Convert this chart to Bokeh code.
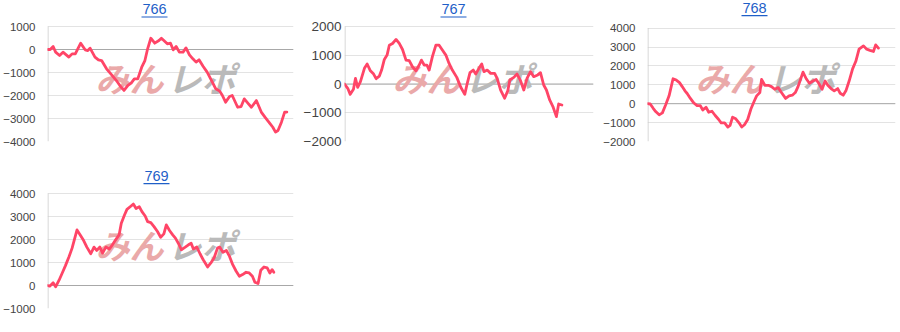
from bokeh.plotting import figure
from bokeh.layouts import gridplot
from bokeh.models import Range1d, FixedTicker, Span, Label, BoxAnnotation
from bokeh.embed import file_html
from bokeh.resources import INLINE

# ---- data (x = position within session, 0-100; y = balance) ----
titles = ["766", "767", "768", "769"]

x766 = [0, 1.1, 2.3, 3.3, 4.9, 6.3, 8.7, 10, 11.3, 13.5, 15.3, 16.4, 17.3, 19.3, 20.7, 22, 24, 26, 28, 29.7,
        31.1, 32.7, 34, 35.3, 36.7, 38.3, 39.6, 40.7, 42, 43.6, 45.3, 46.3, 47.3, 48.7, 50, 51.1, 52.3, 53.6,
        55.1, 56.3, 57.7, 59.1, 60.4, 61.6, 63.3, 64.9, 66.7, 68.4, 70, 71.1, 72.4, 74, 75.1, 77.3, 78.7, 80,
        81.7, 82.9, 84.9, 86.9, 88.4, 90.3, 91.6, 92.7, 93.7, 95.1, 96.4, 97.3]
y766 = [0, 0, 130, -115, -260, -115, -330, -190, -190, 275, -15, -45, 60, -330, -450, -480, -840, -1090, -1350,
        -1610, -1780, -1560, -1460, -1275, -1275, -770, -480, 30, 490, 275, 390, 490, 390, 245, 275, -15, 130,
        -115, -115, 70, -230, -405, -550, -450, -740, -985, -1350, -1710, -1810, -2000, -2290, -2045, -2000,
        -2510, -2480, -2145, -2360, -2510, -2220, -2720, -2940, -3200, -3380, -3590, -3520, -3160, -2720, -2720]

x767 = [0, 1.3, 2.3, 3.6, 4.4, 5.3, 6.4, 8, 9.1, 10.4, 11.7, 12.7, 14, 14.9, 16, 17.1, 18, 19.3, 20.7, 22,
        23.3, 24.7, 26, 27.3, 28.7, 30, 30.9, 32, 33.1, 34, 35.3, 36.7, 38, 39.3, 40.7, 42, 43.3, 45.1, 46.7,
        48.3, 49.3, 50.4, 51.7, 52.7, 54, 55.1, 56, 57.3, 58.7, 60.3, 61.3, 62.7, 64.3, 65.6, 66.4, 68, 69.3,
        70.7, 72, 73.3, 74.7, 76, 77.6, 78.7, 80, 81.1, 82.4, 83.7, 85.1, 86, 87.3]
y767 = [0, -150, -360, -185, 195, -115, 80, 545, 695, 460, 345, 185, 275, 485, 855, 1005, 1350, 1410, 1550, 1410,
        1200, 830, 810, 600, 460, 660, 830, 660, 660, 485, 950, 1350, 1350, 1180, 1005, 715, 485, 230, -115,
        -360, 25, 395, 485, 345, 545, 695, 430, 485, 370, 370, 195, -210, -495, -230, 140, 230, 345, 115, -210,
        195, 430, 255, 315, 395, -35, -210, -555, -785, -1135, -695, -730]

x768 = [0, 1.1, 2.3, 3.3, 4.7, 6, 7.3, 8.7, 10.3, 11.6, 12.9, 14, 15.1, 16, 17.3, 18.7, 20, 21.3, 22.3, 23.6,
        24.7, 26, 27.3, 28.7, 29.7, 31.1, 32.4, 33.3, 34.3, 35.6, 36.9, 38, 39.1, 40.4, 41.7, 43.1, 44, 45.3,
        46, 47.3, 48.7, 50, 51.3, 52.7, 54, 55.7, 57.1, 58.4, 59.6, 60.7, 61.7, 62.7, 64, 65.3, 66.7, 68, 69.3,
        70.4, 71.6, 72.7, 74, 75.3, 76.7, 77.7, 78.9, 80, 81.3, 82.7, 84, 85.3, 87.1, 88.4, 89.7, 91.1, 92, 93.1]
y768 = [0, -15, -245, -415, -590, -485, -70, 415, 1320, 1250, 1115, 905, 680, 540, 280, 35, -105, -105, -330, -190,
        -450, -400, -625, -835, -1010, -1010, -1235, -1150, -715, -800, -1010, -1235, -1115, -835, -280, 155,
        415, 590, 1285, 975, 975, 905, 765, 850, 590, 280, 415, 450, 590, 905, 1285, 1670, 1320, 1080, 1200,
        1285, 1025, 765, 1200, 975, 800, 680, 800, 555, 450, 680, 1200, 1845, 2245, 2885, 3060, 2885, 2820,
        2765, 3115, 2940]

x769 = [0, 0.9, 2.3, 3.3, 4.7, 6, 7.3, 8.7, 10, 10.9, 12, 13.3, 14.7, 16, 17.6, 18.9, 20, 21.3, 22.4, 23.7,
        25.1, 26.4, 27.7, 29.1, 30, 31.3, 32.3, 33.6, 34.9, 36, 37.3, 38.4, 39.7, 40.7, 42, 43.3, 44.7, 46,
        47.3, 48.3, 49.6, 50.9, 52, 53.3, 54.4, 56, 57.3, 58.4, 59.3, 60.7, 62, 63.3, 65.1, 66.4, 67.7, 69.1,
        70, 71.3, 72.7, 74, 75.3, 76.7, 78, 79.3, 80.7, 82, 83.3, 84.3, 85.6, 86.7, 88, 89.3, 90.4, 91.3, 92]
y769 = [0, -30, 115, -60, 230, 545, 865, 1235, 1625, 1985, 2415, 2200, 1955, 1670, 1380, 1670, 1525, 1670, 1410,
        1670, 1585, 1770, 1985, 2200, 2705, 3065, 3310, 3425, 3540, 3350, 3425, 3210, 3020, 2775, 2735, 2560,
        2345, 2100, 2245, 2635, 2390, 2200, 2060, 1815, 1555, 1670, 1770, 1840, 1585, 1670, 1380, 1120, 805,
        980, 1195, 1625, 1670, 1440, 1525, 1265, 905, 620, 405, 475, 575, 545, 405, 145, 85, 660, 805, 765,
        545, 690, 575]

ticks766 = [-4000, -3000, -2000, -1000, 0, 1000]
ticks767 = [-2000, -1000, 0, 1000, 2000]
ticks768 = [-2000, -1000, 0, 1000, 2000, 3000, 4000]
ticks769 = [-1000, 0, 1000, 2000, 3000, 4000]

watermark_a = "みん"
watermark_b = "レポ"

LINE = "#ff4567"
BLUE = "#1f5fc8"
FRAME_W, DATA_H = 250, 115


def panel(title, xs, ys, ticks, left, top, height, label_size="11.5px", standoff=12, base=13.3):
    lo, hi = min(ticks), max(ticks)
    # frame reaches the top of the figure so that the title can be drawn inside it
    hi_ext = hi + top * (hi - lo) / DATA_H
    p = figure(width=300, height=height, output_backend="svg", toolbar_location=None,
               x_axis_location=None, title=None,
               x_range=Range1d(0, 100), y_range=Range1d(lo, hi_ext),
               min_border_left=left, min_border_right=300 - left - FRAME_W,
               min_border_top=0, min_border_bottom=height - top - DATA_H)
    p.outline_line_color = None
    p.background_fill_color = "white"
    p.border_fill_color = "white"
    p.xgrid.visible = False
    p.ygrid.ticker = FixedTicker(ticks=ticks)
    p.ygrid.grid_line_color = "#e3e3e3"
    p.ygrid.grid_line_width = 1
    ax = p.yaxis[0]
    ax.ticker = FixedTicker(ticks=ticks)
    ax.axis_line_color = None
    ax.major_tick_line_color = None
    ax.minor_tick_line_color = None
    ax.major_tick_out = 0
    ax.major_tick_in = 0
    ax.major_label_standoff = standoff
    ax.major_label_text_font = "Liberation Sans"
    ax.major_label_text_font_size = label_size
    ax.major_label_text_color = "#444444"

    # axis line only over the tick span
    p.add_layout(BoxAnnotation(left=0, right=1, left_units="screen", right_units="screen",
                               bottom=lo, top=hi, fill_color="#cccccc", fill_alpha=1.0,
                               line_color=None, level="underlay"))
    p.add_layout(Span(location=0, dimension="width", line_color="#a8a8a8", line_width=1, level="underlay"))

    # watermark
    p.add_layout(Label(x=48, y=64, x_units="screen", y_units="screen", text=watermark_a,
                       text_font="Noto Sans CJK JP", text_font_size="34px", text_font_style="bold italic",
                       text_color="#eaa9a9", text_baseline="middle", text_align="left", level="underlay"))
    p.add_layout(Label(x=120, y=64, x_units="screen", y_units="screen", text=watermark_b,
                       text_font="Noto Sans CJK JP", text_font_size="34px", text_font_style="bold italic",
                       text_color="#bababa", text_baseline="middle", text_align="left", level="underlay"))

    p.line(xs, ys, line_color=LINE, line_width=2.8, line_join="round", line_cap="round")

    # title (link style)
    tx = 152 - left
    ty = DATA_H + (top - base)
    p.add_layout(Label(x=tx, y=ty + 5, x_units="screen", y_units="screen", text=title,
                       text_font="Liberation Sans", text_font_size="14.5px", text_color=BLUE,
                       text_align="center", text_baseline="alphabetic"))
    p.add_layout(BoxAnnotation(left=tx - 13, right=tx + 13, top=ty - 2.6, bottom=ty - 3.8,
                               left_units="screen", right_units="screen", top_units="screen",
                               bottom_units="screen", fill_color=BLUE, fill_alpha=1.0,
                               line_color=None, level="annotation"))
    return p


p1 = panel(titles[0], x766, y766, ticks766, 45, 26, 167)
p2 = panel(titles[1], x767, y767, ticks767, 43, 26, 167, label_size="13.5px", standoff=3)
p3 = panel(titles[2], x768, y768, ticks768, 45, 28, 167, base=14)
p4 = panel(titles[3], x769, y769, ticks769, 43, 26, 165, base=13)

grid = gridplot([[p1, p2, p3], [p4, None, None]], toolbar_location=None)

open("out.html", "w").write(file_html(grid, INLINE))
